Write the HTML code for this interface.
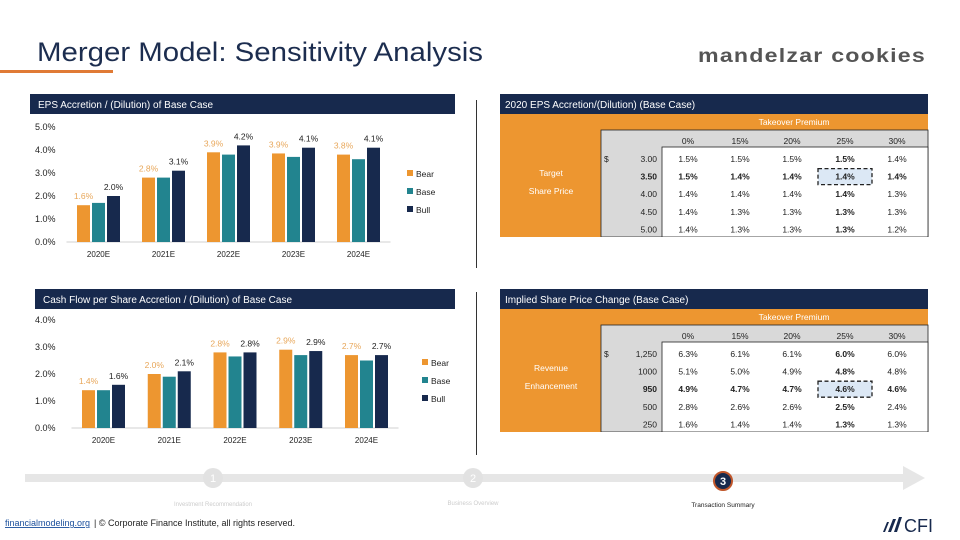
<!DOCTYPE html>
<html><head><meta charset="utf-8">
<style>
html,body{margin:0;padding:0;background:#fff;}
svg{display:block;font-family:"Liberation Sans",sans-serif;}
</style></head>
<body>
<svg id="root" width="960" height="540" viewBox="0 0 960 540" xmlns="http://www.w3.org/2000/svg">
  <text x="37" y="61" font-size="27" fill="#1c2d4f" textLength="446" lengthAdjust="spacingAndGlyphs">Merger Model: Sensitivity Analysis</text>
  <rect x="0" y="70" width="113" height="3" fill="#e07a35"/>
  <text x="698" y="62" font-size="19" font-weight="bold" fill="#555" textLength="228" lengthAdjust="spacingAndGlyphs" letter-spacing="1">mandelzar cookies</text>

  <line x1="476.5" y1="100" x2="476.5" y2="268" stroke="#333" stroke-width="1"/>
  <line x1="476.5" y1="292" x2="476.5" y2="455" stroke="#333" stroke-width="1"/>

  <g id="chart1">
    <rect x="30" y="94" width="425" height="20" fill="#17294d"/>
    <text x="38" y="108" font-size="10" fill="#fff">EPS Accretion / (Dilution) of Base Case</text>
  </g>
  <g id="chart2">
    <rect x="35" y="289" width="420" height="20" fill="#17294d"/>
    <text x="43" y="303" font-size="10" fill="#fff">Cash Flow per Share Accretion / (Dilution) of Base Case</text>
  </g>
  <g id="table1"></g>
  <g id="table2"></g>

  <g>
    <rect x="25" y="474" width="880" height="8" fill="#e6e6e6"/>
    <polygon points="903,466 925,478 903,490" fill="#e6e6e6"/>
    <circle cx="213" cy="478" r="10" fill="#e2e2e2"/>
    <text x="213" y="482" font-size="11" fill="#fff" text-anchor="middle">1</text>
    <text x="213" y="506" font-size="6" fill="#ccc" text-anchor="middle">Investment Recommendation</text>
    <circle cx="473" cy="478" r="10" fill="#e2e2e2"/>
    <text x="473" y="482" font-size="11" fill="#fff" text-anchor="middle">2</text>
    <text x="473" y="505" font-size="6" fill="#ccc" text-anchor="middle">Business Overview</text>
    <circle cx="723" cy="481" r="9" fill="#17294d" stroke="#c0562a" stroke-width="2"/>
    <text x="723" y="485" font-size="11" font-weight="bold" fill="#fff" text-anchor="middle">3</text>
    <text x="723" y="507" font-size="6.5" fill="#222" text-anchor="middle">Transaction Summary</text>
  </g>
  <text x="5" y="526" font-size="9" fill="#1a4f9c" text-decoration="underline">financialmodeling.org</text>
  <text x="94" y="526" font-size="9" fill="#222">| © Corporate Finance Institute, all rights reserved.</text>
  <g>
    <polygon points="883,532 887,522 889,522 885,532" fill="#17294d"/>
    <polygon points="888,532 893,519 896,519 891,532" fill="#17294d"/>
    <polygon points="894,532 899,517 902,517 897,532" fill="#17294d"/>
    <text x="904" y="532" font-size="18" fill="#17294d">CFI</text>
  </g>
</svg>
<script>
const NS="http://www.w3.org/2000/svg";
const categories=["2020E","2021E","2022E","2023E","2024E"];
const seriesNames=["Bear","Base","Bull"];
const epsBear=[1.6,2.8,3.9,3.85,3.8];
const epsBase=[1.7,2.8,3.8,3.7,3.6];
const epsBull=[2.0,3.1,4.2,4.1,4.1];
const epsBearLabels=["1.6%","2.8%","3.9%","3.9%","3.8%"];
const epsBullLabels=["2.0%","3.1%","4.2%","4.1%","4.1%"];
const epsTicks=[0,1,2,3,4,5];
const cfBear=[1.4,2.0,2.8,2.9,2.7];
const cfBase=[1.4,1.9,2.65,2.7,2.5];
const cfBull=[1.6,2.1,2.8,2.85,2.7];
const cfBearLabels=["1.4%","2.0%","2.8%","2.9%","2.7%"];
const cfBullLabels=["1.6%","2.1%","2.8%","2.9%","2.7%"];
const cfTicks=[0,1,2,3,4];
const premiums=["0%","15%","20%","25%","30%"];
const priceRows=["3.00","3.50","4.00","4.50","5.00"];
const epsGrid=[["1.5%","1.5%","1.5%","1.5%","1.4%"],["1.5%","1.4%","1.4%","1.4%","1.4%"],["1.4%","1.4%","1.4%","1.4%","1.3%"],["1.4%","1.3%","1.3%","1.3%","1.3%"],["1.4%","1.3%","1.3%","1.3%","1.2%"]];
const revRows=["1,250","1000","950","500","250"];
const revGrid=[["6.3%","6.1%","6.1%","6.0%","6.0%"],["5.1%","5.0%","4.9%","4.8%","4.8%"],["4.9%","4.7%","4.7%","4.6%","4.6%"],["2.8%","2.6%","2.6%","2.5%","2.4%"],["1.6%","1.4%","1.4%","1.3%","1.3%"]];
const colors=["#ed9630","#22848f","#17294d"];

function mk(parent,tag,attrs,text){const e=document.createElementNS(NS,tag);for(const k in attrs)e.setAttribute(k,attrs[k]);if(text!==undefined)e.textContent=text;parent.appendChild(e);return e;}

function drawChart(g,o){
  const y=v=>o.base-v*o.ppu;
  const x=i=>o.x0+i*o.step;
  o.ticks.forEach(t=>{const e=mk(g,"text",{x:35,y:y(t)+3,"font-size":9,fill:"#222"},t.toFixed(1)+"%");
    
    });
  const ax=mk(g,"line",{x1:o.x0-32,x2:x(4)+32,y1:o.base,y2:o.base,stroke:"#d0d0d0","stroke-width":1});
  
  
  const series=[o.bear,o.base2,o.bull];
  categories.forEach((c,i)=>{
    series.forEach((s,k)=>{
      const bx=x(i)-21.5+k*15;
      const r=mk(g,"rect",{x:bx,y:y(s[i]),width:13,height:o.base-y(s[i]),fill:colors[k]});
      
      
    });
    const l1=mk(g,"text",{x:x(i)-15,y:y(o.bear[i])-6,"font-size":8.5,fill:"#e8a75a","text-anchor":"middle"},o.bearL[i]);
    
    
    const l2=mk(g,"text",{x:x(i)+15,y:y(o.bull[i])-6,"font-size":8.5,fill:"#222","text-anchor":"middle"},o.bullL[i]);
    
    
    const cl=mk(g,"text",{x:x(i),y:o.base+15,"font-size":8,fill:"#222","text-anchor":"middle"},c);
    
    
  });
  seriesNames.forEach((n,k)=>{
    const sq=mk(g,"rect",{x:o.lx,y:o.ly+k*18-4,width:6,height:6,fill:colors[k]});
    
    
    const t=mk(g,"text",{x:o.lx+9,y:o.ly+k*18+3,"font-size":8.5,fill:"#222"},n);
    
    
  });
}
drawChart(document.getElementById("chart1"),{base:242,ppu:23,x0:98.5,step:65,ticks:epsTicks,bear:epsBear,base2:epsBase,bull:epsBull,bearL:epsBearLabels,bullL:epsBullLabels,lx:407,ly:174});
drawChart(document.getElementById("chart2"),{base:428,ppu:27,x0:103.5,step:65.75,ticks:cfTicks,bear:cfBear,base2:cfBase,bull:cfBull,bearL:cfBearLabels,bullL:cfBullLabels,lx:422,ly:363});

function drawTable(g,o){
  const T=o.top;
  mk(g,"rect",{x:500,y:T,width:428,height:20,fill:"#17294d"});
  const h=mk(g,"text",{x:505,y:T+14,"font-size":10,fill:"#fff"},o.title);
  
  
  mk(g,"rect",{x:500,y:T+20,width:428,height:123,fill:"#ed9630"});
  mk(g,"rect",{x:601,y:T+36,width:327,height:107,fill:"#d9d9d9",stroke:"#222","stroke-width":0.8});
  mk(g,"rect",{x:662,y:T+53,width:266,height:90,fill:"#fff",stroke:"#222","stroke-width":0.8});
  mk(g,"rect",{x:500,y:T+143,width:430,height:5,fill:"#fff"});
  const tp=mk(g,"text",{x:794,y:T+31,"font-size":8.5,fill:"#fff","text-anchor":"middle"},"Takeover Premium");
  
  
  const cx=[688,740,792,845,897];
  premiums.forEach((p,j)=>{const e=mk(g,"text",{x:cx[j],y:T+50,"font-size":8.5,fill:"#222","text-anchor":"middle"},p);
    
    });
  const ry=[0,1,2,3,4].map(i=>T+68+i*17.6);
  mk(g,"text",{x:604,y:ry[0],"font-size":8.5,fill:"#222"},"$");
  o.rows.forEach((r,i)=>{
    const bold=i===o.hl;
    const e=mk(g,"text",{x:657,y:ry[i],"font-size":8.5,fill:"#222","text-anchor":"end","font-weight":bold?"bold":"normal"},r);
    
    
    if(bold){const b=mk(g,"rect",{x:818,y:ry[i]-11,width:54,height:16,fill:"#dce8f5",stroke:"#222","stroke-width":1.3,"stroke-dasharray":"4,2.5"});
      
      }
    o.grid[i].forEach((v,j)=>{
      const c=mk(g,"text",{x:cx[j],y:ry[i],"font-size":8.5,fill:"#222","text-anchor":"middle","font-weight":(bold||j===3)?"bold":"normal"},v);
      
      
    });
  });
  o.labels.forEach((l,k)=>{const e=mk(g,"text",{x:551,y:T+82+k*18,"font-size":8.5,fill:"#fff","text-anchor":"middle"},l);
    
    });
}
drawTable(document.getElementById("table1"),{top:94,title:"2020 EPS Accretion/(Dilution) (Base Case)",rows:priceRows,grid:epsGrid,hl:1,labels:["Target","Share Price"]});
drawTable(document.getElementById("table2"),{top:289,title:"Implied Share Price Change (Base Case)",rows:revRows,grid:revGrid,hl:2,labels:["Revenue","Enhancement"]});
</script>
</body></html>
